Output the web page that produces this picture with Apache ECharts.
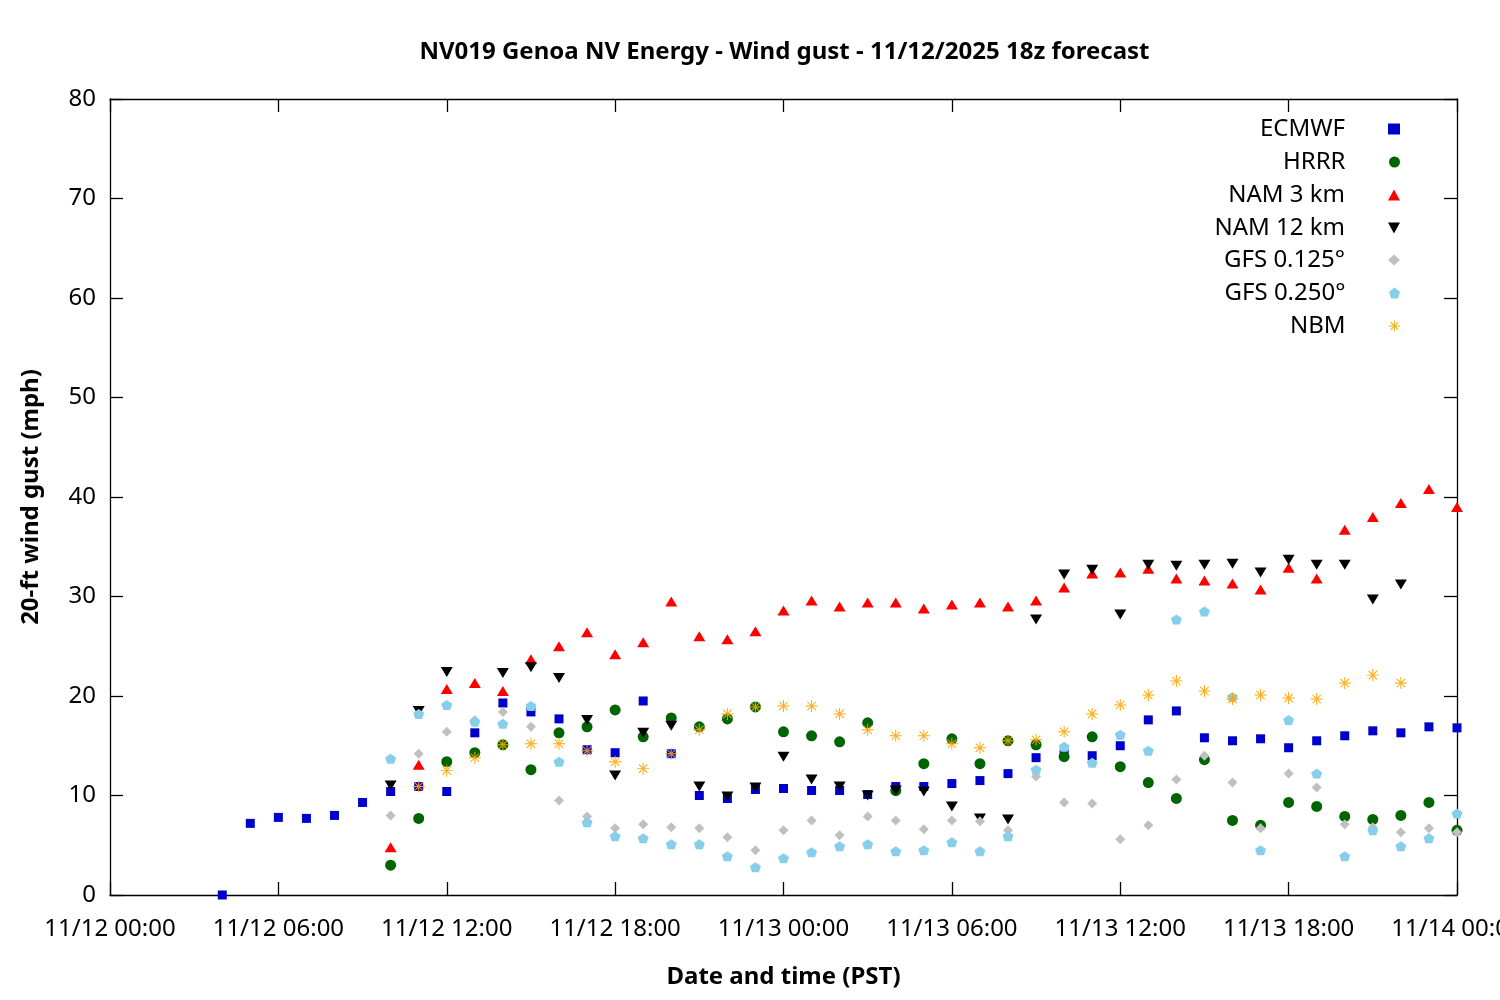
<!DOCTYPE html>
<html>
<head>
<meta charset="utf-8">
<script src="https://cdn.jsdelivr.net/npm/echarts@6/dist/echarts.min.js"></script>
<style>
html,body{margin:0;padding:0;background:#fff;}
#c{width:1500px;height:1000px;}
</style>
</head>
<body>
<div id="c"></div>
<script>
// Forecast hours since 11/12 00:00 PST
const hours = [4,5,6,7,8,9,10,11,12,13,14,15,16,17,18,19,20,21,22,23,24,25,26,27,28,29,30,31,32,33,34,35,36,37,38,39,40,41,42,43,44,45,46,47,48];
const ecmwf = [0.0,7.2,7.8,7.7,8.0,9.3,10.4,10.9,10.4,16.3,19.3,18.4,17.7,14.6,14.3,19.5,14.2,10.0,9.7,10.6,10.7,10.5,10.5,10.1,10.9,10.9,11.2,11.5,12.2,13.8,14.2,14.0,15.0,17.6,18.5,15.8,15.5,15.7,14.8,15.5,16.0,16.5,16.3,16.9,16.8];
const hrrr = [null,null,null,null,null,null,3.0,7.7,13.4,14.3,15.1,12.6,16.3,16.9,18.6,15.9,17.8,16.9,17.7,18.9,16.4,16.0,15.4,17.3,10.5,13.2,15.7,13.2,15.5,15.1,13.9,15.9,12.9,11.3,9.7,13.6,7.5,7.0,9.3,8.9,7.9,7.6,8.0,9.3,6.5];
const nam3 = [null,null,null,null,null,null,4.8,13.1,20.7,21.3,20.5,23.7,25.0,26.4,24.2,25.4,29.5,26.0,25.7,26.5,28.6,29.6,29.0,29.4,29.4,28.8,29.2,29.4,29.0,29.6,30.9,32.3,32.4,32.8,31.8,31.6,31.3,30.7,32.9,31.8,36.7,38.0,39.4,40.8,39.0];
const nam12 = [null,null,null,null,null,null,11.0,18.5,22.4,null,22.3,22.9,21.8,17.6,12.0,16.3,17.0,10.9,9.9,10.8,13.9,11.6,10.9,10.0,10.5,10.4,8.9,7.7,7.6,27.7,32.2,32.7,28.2,33.2,33.1,33.2,33.3,32.4,33.7,33.2,33.2,29.7,31.2,null,null];
const gfs0125 = [null,null,null,null,null,null,8.0,14.2,16.4,17.6,18.4,16.9,9.5,7.9,6.7,7.1,6.8,6.7,5.8,4.5,6.5,7.5,6.0,7.9,7.5,6.6,7.5,7.4,6.5,11.9,9.3,9.2,5.6,7.0,11.6,14.0,11.3,6.7,12.2,10.8,7.1,6.8,6.3,6.7,6.3];
const gfs0250 = [null,null,null,null,null,null,13.7,18.2,19.1,17.4,17.2,19.0,13.4,7.3,5.9,5.7,5.1,5.1,3.9,2.8,3.7,4.3,4.9,5.1,4.4,4.5,5.3,4.4,5.9,12.6,14.9,13.3,16.1,14.5,27.7,28.5,19.9,4.5,17.6,12.2,3.9,6.5,4.9,5.7,8.2];
const nbm = [null,null,null,null,null,null,null,10.9,12.5,13.8,15.1,15.2,15.2,14.5,13.4,12.7,14.2,16.6,18.2,18.9,19.0,19.0,18.2,16.6,16.0,16.0,15.2,14.8,15.5,15.6,16.4,18.2,19.1,20.1,21.5,20.5,19.7,20.1,19.8,19.7,21.3,22.1,21.3,null,null];
const seriesNames = ['ECMWF','HRRR','NAM 3 km','NAM 12 km','GFS 0.125°','GFS 0.250°','NBM'];
const yTicks = [0,10,20,30,40,50,60,70,80];

const FONT = 'Noto Sans';
const pentagon = 'path://M50 0 L100 38 L81 100 L19 100 L0 38 Z';
const invTri = 'path://M0 0 L100 0 L50 90 Z';
const upTri = 'path://M50 0 L100 90 L0 90 Z';
const asterisk = 'path://M46 0 L54 0 L54 100 L46 100 Z M0 46 L100 46 L100 54 L0 54 Z M17.8 12.2 L87.8 82.2 L82.2 87.8 L12.2 17.8 Z M82.2 12.2 L12.2 82.2 L17.8 87.8 L87.8 17.8 Z';

const styles = [
  {symbol:'rect', size:[9,9], color:'#0000cc'},
  {symbol:'circle', size:11, color:'#006400'},
  {symbol:upTri, size:[12,10], color:'#ff0000'},
  {symbol:invTri, size:[12,10], color:'#000000'},
  {symbol:'diamond', size:[10,10], color:'#c0c0c0'},
  {symbol:pentagon, size:[11,10], color:'#87ceeb'},
  {symbol:asterisk, size:[12,12], color:'#ffa500'}
];
const values = [ecmwf, hrrr, nam3, nam12, gfs0125, gfs0250, nbm];

function pad(n){return (n<10?'0':'')+n;}
function fmtHour(h){
  const day = 12 + Math.floor(h/24);
  return '11/' + day + ' ' + pad(h%24) + ':00';
}

const series = values.map((vals,i)=>({
  name: seriesNames[i],
  type: 'scatter',
  symbol: styles[i].symbol,
  symbolSize: styles[i].size,
  itemStyle: {color: styles[i].color, opacity: 1},
  data: hours.map((h,j)=> vals[j]==null ? null : [h, vals[j]]).filter(d=>d!==null),
  xAxisIndex: 0, yAxisIndex: 0,
  clip: false
}));

const legendCenters = [128,161,194,227,259,292,325];
const legends = seriesNames.map((n,i)=>({
  data:[n],
  right: 100,
  top: legendCenters[i]-11,
  align:'right',
  orient:'vertical',
  itemWidth: 12,
  itemHeight: 11,
  padding: 0,
  selectedMode:false,
  textStyle:{fontFamily:FONT, fontSize:24, color:'#000', padding:[0,38,0,0]}
}));

const axisCommon = {
  axisLine:{show:true, onZero:false, lineStyle:{color:'#000', width:1.3}},
  axisTick:{show:true, inside:true, length:13, lineStyle:{color:'#000', width:1.3}},
  splitLine:{show:false}
};

const chart = echarts.init(document.getElementById('c'), null, {renderer:'canvas'});
chart.setOption({
  animation:false,
  backgroundColor:'#fff',
  title:{
    text:'NV019 Genoa NV Energy - Wind gust - 11/12/2025 18z forecast',
    left:779.5, top:35, textAlign:'center',
    textStyle:{fontFamily:FONT, fontSize:24, fontWeight:'bold', color:'#000'}
  },
  legend: legends,
  grid:{left:110, right:43, top:99, bottom:105, containLabel:false, outerBoundsMode:'none'},
  xAxis:[
    Object.assign({}, axisCommon, {
      type:'value', min:0, max:48, interval:6, position:'bottom',
      name:'Date and time (PST)', nameLocation:'middle', nameGap:70,
      nameTextStyle:{fontFamily:FONT, fontSize:24, fontWeight:'bold', color:'#000'},
      axisLabel:{formatter:fmtHour, fontFamily:FONT, fontSize:24, color:'#000', margin:22, showMaxLabel:true}
    }),
    Object.assign({}, axisCommon, {
      type:'value', min:0, max:48, interval:6, position:'top',
      axisLabel:{show:false}
    })
  ],
  yAxis:[
    Object.assign({}, axisCommon, {
      type:'value', min:yTicks[0], max:yTicks[yTicks.length-1], interval:10, position:'left',
      name:'20-ft wind gust (mph)', nameLocation:'middle', nameGap:67,
      nameTextStyle:{fontFamily:FONT, fontSize:24, fontWeight:'bold', color:'#000'},
      axisLabel:{fontFamily:FONT, fontSize:24, color:'#000', margin:14}
    }),
    Object.assign({}, axisCommon, {
      type:'value', min:yTicks[0], max:yTicks[yTicks.length-1], interval:10, position:'right',
      axisLabel:{show:false}
    })
  ],
  series: series
});
</script>
</body>
</html>
